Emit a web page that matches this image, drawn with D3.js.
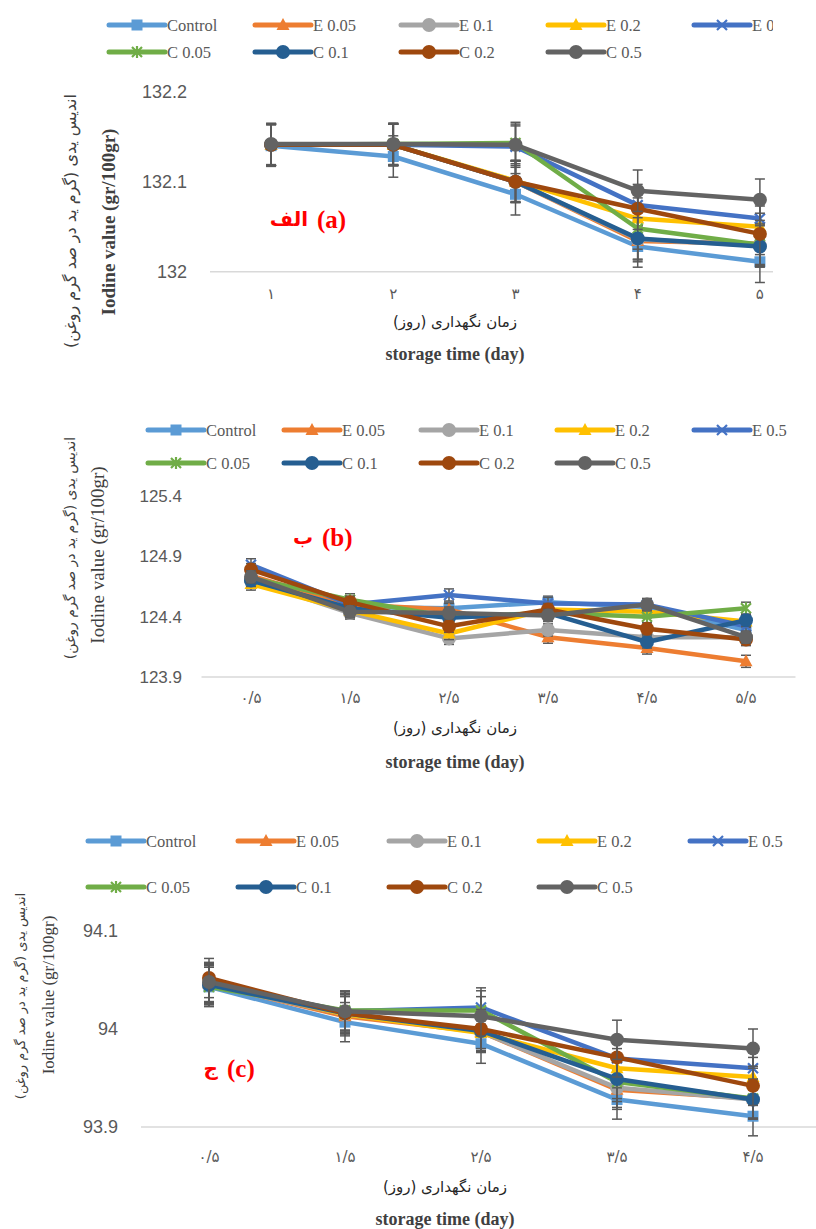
<!DOCTYPE html>
<html>
<head>
<meta charset="utf-8">
<script src="https://cdnjs.cloudflare.com/ajax/libs/d3/7.8.5/d3.min.js"></script>
<title>Iodine value</title>
<style>
body { margin: 0; background: #fff; }
svg { display: block; }
</style>
</head>
<body>
<svg width="816" height="1229"></svg>
<script>

// series (same order in every panel)
let seriesNames  = ["Control", "E 0.05", "E 0.1", "E 0.2", "E 0.5", "C 0.05", "C 0.1", "C 0.2", "C 0.5"];
let seriesColors = ["#5B9BD5", "#ED7D31", "#A5A5A5", "#FFC000", "#4472C4", "#70AD47", "#255E91", "#9E480E", "#636363"];
let seriesMarks  = ["square", "triangle", "circle", "triangle", "x", "star", "circle", "circle", "circle"];

// panel a
let daysA = ["۱", "۲", "۳", "۴", "۵"];
let ticksA = [132, 132.1, 132.2];
let valuesA = [
  [132.140, 132.128, 132.086, 132.028, 132.011],
  [132.141, 132.141, 132.100, 132.034, 132.031],
  [132.141, 132.141, 132.100, 132.036, 132.029],
  [132.141, 132.141, 132.101, 132.059, 132.050],
  [132.141, 132.141, 132.139, 132.074, 132.059],
  [132.141, 132.142, 132.143, 132.048, 132.030],
  [132.141, 132.141, 132.100, 132.037, 132.028],
  [132.141, 132.141, 132.100, 132.070, 132.042],
  [132.142, 132.142, 132.141, 132.090, 132.080]
];
let errA = 0.023;

// panel b
let daysB = ["۰/۵", "۱/۵", "۲/۵", "۳/۵", "۴/۵", "۵/۵"];
let ticksB = [123.9, 124.4, 124.9, 125.4];
let valuesB = [
  [124.70, 124.48, 124.47, 124.52, 124.48, 124.29],
  [124.74, 124.50, 124.46, 124.23, 124.14, 124.03],
  [124.70, 124.43, 124.22, 124.29, 124.23, 124.23],
  [124.67, 124.45, 124.26, 124.46, 124.44, 124.36],
  [124.83, 124.50, 124.58, 124.51, 124.50, 124.32],
  [124.72, 124.54, 124.40, 124.43, 124.40, 124.47],
  [124.70, 124.47, 124.39, 124.43, 124.19, 124.37],
  [124.79, 124.52, 124.32, 124.46, 124.30, 124.21],
  [124.73, 124.44, 124.43, 124.41, 124.50, 124.23]
];
let errB = 0.05;

// panel c
let daysC = ["۰/۵", "۱/۵", "۲/۵", "۳/۵", "۴/۵"];
let ticksC = [93.9, 94, 94.1];
let valuesC = [
  [94.043, 94.007, 93.985, 93.928, 93.911],
  [94.046, 94.013, 93.997, 93.938, 93.929],
  [94.045, 94.015, 93.997, 93.940, 93.928],
  [94.047, 94.015, 93.996, 93.960, 93.951],
  [94.046, 94.018, 94.022, 93.970, 93.960],
  [94.043, 94.019, 94.019, 93.946, 93.929],
  [94.045, 94.016, 93.998, 93.949, 93.928],
  [94.052, 94.016, 94.000, 93.971, 93.942],
  [94.048, 94.018, 94.013, 93.989, 93.980]
];
let errC = 0.02;

let svg = d3.select("svg");
let serif = "'Liberation Serif', 'Times New Roman', serif";
let persian = "'DejaVu Sans', sans-serif";
let tickFont = "'Liberation Sans', Arial, sans-serif";

function markerPath(type) {
  let p = d3.path();
  if (type === "square") {
    p.rect(-5.5, -5.5, 11, 11);
  } else if (type === "triangle") {
    p.moveTo(0, -7); p.lineTo(6.5, 5); p.lineTo(-6.5, 5); p.closePath();
  } else if (type === "circle") {
    p.moveTo(7, 0); p.arc(0, 0, 7, 0, 2 * Math.PI);
  } else if (type === "x") {
    p.moveTo(-5, -5); p.lineTo(5, 5); p.moveTo(5, -5); p.lineTo(-5, 5);
  } else {
    p.moveTo(-5, -5); p.lineTo(5, 5); p.moveTo(5, -5); p.lineTo(-5, 5);
    p.moveTo(0, -6); p.lineTo(0, 6);
  }
  return p.toString();
}

function drawMarker(g, i, x, y) {
  let t = seriesMarks[i];
  let open = (t === "x" || t === "star");
  g.append("path")
    .attr("d", markerPath(t))
    .attr("transform", "translate(" + x + "," + y + ")")
    .attr("fill", open ? "none" : seriesColors[i])
    .attr("stroke", seriesColors[i])
    .attr("stroke-width", open ? 2.2 : 0);
}

function drawLegend(g, xs, rowY) {
  seriesNames.forEach(function(name, i) {
    let row = i < 5 ? 0 : 1;
    let lx = row ? xs[i - 5] : xs[i];
    let ly = rowY[row];
    g.append("line")
      .attr("x1", lx).attr("x2", lx + 56)
      .attr("y1", ly).attr("y2", ly)
      .attr("stroke", seriesColors[i])
      .attr("stroke-width", 5)
      .attr("stroke-linecap", "round");
    drawMarker(g, i, lx + 28, ly);
    g.append("text")
      .attr("x", lx + 58).attr("y", ly)
      .attr("dy", "0.35em")
      .attr("font-family", serif)
      .attr("font-size", 16.5)
      .attr("fill", "#595959")
      .text(name);
  });
}

function drawPanel(p) {
  let g = svg.append("g");
  if (p.clip) {
    svg.append("clipPath").attr("id", p.id + "clip")
      .append("rect").attr("x", 0).attr("y", p.clip[1]).attr("width", p.clip[0]).attr("height", p.clip[2]);
    g.attr("clip-path", "url(#" + p.id + "clip)");
  }

  let x = d3.scaleBand().domain(p.days).range(p.xRange).padding(0);
  let y = d3.scaleLinear().domain([p.ticks[0], p.ticks[p.ticks.length - 1]]).range(p.yRange);
  let cx = function(d) { return x(d) + x.bandwidth() / 2; };

  drawLegend(g, p.legendX, p.legendY);

  // baseline
  g.append("line")
    .attr("x1", p.xRange[0]).attr("x2", p.xRange[1])
    .attr("y1", y(p.ticks[0])).attr("y2", y(p.ticks[0]))
    .attr("stroke", "#d9d9d9").attr("stroke-width", 1.5);

  // y axis labels
  let ya = g.append("g")
    .attr("transform", "translate(" + p.tickX + ",0)")
    .call(d3.axisLeft(y).tickValues(p.ticks).tickFormat(function(d) { return String(+d.toFixed(2)); }).tickSize(0).tickPadding(0));
  ya.select(".domain").remove();
  ya.selectAll("text").attr("font-family", tickFont).attr("font-size", p.tickSize).attr("fill", "#595959");

  // x axis labels
  let xa = g.append("g")
    .attr("transform", "translate(0," + y(p.ticks[0]) + ")")
    .call(d3.axisBottom(x).tickSize(0).tickPadding(p.xPad));
  xa.select(".domain").remove();
  xa.selectAll("text").attr("font-family", persian).attr("font-size", 15).attr("fill", "#595959");

  // series
  let line = d3.line().x(function(d, j) { return cx(p.days[j]); }).y(function(d) { return y(d); });
  p.values.forEach(function(vals, i) {
    let sg = g.append("g");
    sg.append("path")
      .attr("d", line(vals))
      .attr("fill", "none")
      .attr("stroke", seriesColors[i])
      .attr("stroke-width", 4.5)
      .attr("stroke-linejoin", "round");
    vals.forEach(function(v, j) {
      let px = cx(p.days[j]);
      sg.append("line")
        .attr("x1", px).attr("x2", px)
        .attr("y1", y(v - p.err)).attr("y2", y(v + p.err))
        .attr("stroke", "#595959").attr("stroke-width", 1.5);
      [v - p.err, v + p.err].forEach(function(e) {
        sg.append("line")
          .attr("x1", px - 5).attr("x2", px + 5)
          .attr("y1", y(e)).attr("y2", y(e))
          .attr("stroke", "#595959").attr("stroke-width", 1.5);
      });
    });
    vals.forEach(function(v, j) { drawMarker(sg, i, cx(p.days[j]), y(v)); });
  });

  // axis titles
  g.append("text")
    .attr("x", p.titleX).attr("y", p.faTitleY)
    .attr("text-anchor", "middle")
    .attr("font-family", persian).attr("font-size", 15).attr("fill", "#262626")
    .attr("direction", "rtl")
    .text("زمان نگهداری (روز)");
  g.append("text")
    .attr("x", p.titleX).attr("y", p.enTitleY)
    .attr("text-anchor", "middle")
    .attr("font-family", serif).attr("font-size", 18).attr("font-weight", "bold").attr("fill", "#404040")
    .text("storage time (day)");

  g.append("text")
    .attr("transform", "translate(" + p.yFa[0] + "," + p.yFa[1] + ") rotate(-90)")
    .attr("text-anchor", "middle").attr("dy", "0.35em")
    .attr("font-family", persian).attr("font-size", p.yFa[2]).attr("fill", "#404040")
    .attr("direction", "rtl")
    .text("اندیس یدی  (گرم ید در صد گرم روغن)");
  g.append("text")
    .attr("transform", "translate(" + p.yEn[0] + "," + p.yEn[1] + ") rotate(-90)")
    .attr("text-anchor", "middle").attr("dy", "0.35em")
    .attr("font-family", serif).attr("font-size", p.yEn[2])
    .attr("font-weight", p.yEnBold ? "bold" : "normal").attr("fill", "#404040")
    .text("Iodine value (gr/100gr)");

  // panel tag
  g.append("text")
    .attr("x", p.tag[0]).attr("y", p.tag[1]).attr("dy", "0.35em")
    .attr("text-anchor", "end")
    .attr("font-family", persian).attr("font-size", 20).attr("font-weight", "bold").attr("fill", "#FF0000")
    .text(p.tagFa);
  g.append("text")
    .attr("x", p.tag[0] + 9).attr("y", p.tag[1]).attr("dy", "0.35em")
    .attr("font-family", serif).attr("font-size", 25).attr("font-weight", "bold").attr("fill", "#FF0000")
    .text(p.tagEn);
}

drawPanel({
  id: "a", days: daysA, ticks: ticksA, values: valuesA, err: errA,
  xRange: [210, 821], yRange: [271.7, 91.7], clip: [773, 0, 380],
  tickX: 187, tickSize: 18, xPad: 17,
  legendX: [109, 255, 401, 548, 694], legendY: [25, 52],
  titleX: 455, faTitleY: 327, enTitleY: 360,
  yFa: [70, 221, 16], yEn: [108, 222, 19], yEnBold: true,
  tag: [308, 219], tagFa: "الف", tagEn: "(a)"
});

drawPanel({
  id: "b", days: daysB, ticks: ticksB, values: valuesB, err: errB,
  xRange: [201.5, 795.5], yRange: [677, 496],
  tickX: 182, tickSize: 17, xPad: 15,
  legendX: [148, 284, 421, 557, 694], legendY: [430, 463],
  titleX: 455, faTitleY: 733, enTitleY: 768,
  yFa: [70, 548, 14], yEn: [97, 555, 19], yEnBold: false,
  tag: [313, 537], tagFa: "ب", tagEn: "(b)"
});

drawPanel({
  id: "c", days: daysC, ticks: ticksC, values: valuesC, err: errC,
  xRange: [141, 821], yRange: [1127, 931],
  tickX: 118, tickSize: 18, xPad: 24,
  legendX: [88, 238, 389, 539, 690], legendY: [841, 887],
  titleX: 445, faTitleY: 1192, enTitleY: 1225,
  yFa: [20, 996, 13], yEn: [48, 995, 17], yEnBold: false,
  tag: [218, 1068], tagFa: "ج", tagEn: "(c)"
});

</script>
</body>
</html>
